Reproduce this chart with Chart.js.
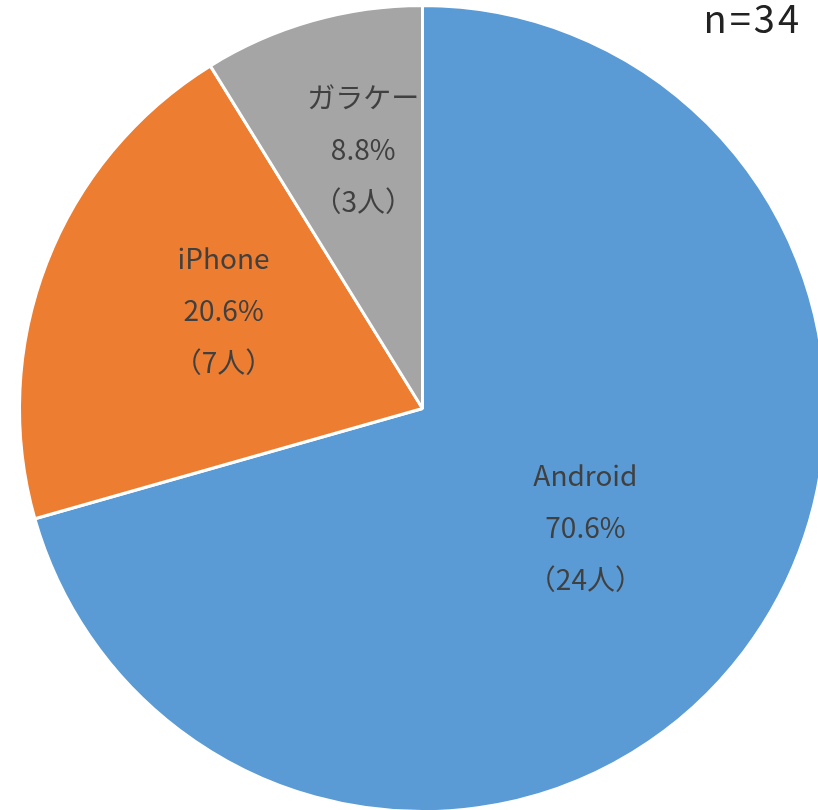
<!DOCTYPE html>
<html lang="ja">
<head>
<meta charset="utf-8">
<script src="https://cdn.jsdelivr.net/npm/chart.js"></script>
<style>
  html, body { margin: 0; padding: 0; background: #fff; overflow: hidden; }
  #wrap { position: relative; width: 818px; height: 810px; overflow: hidden; }
  #pieChart { position: absolute; left: 0; top: 0; }
  #nLabel {
    position: absolute; right: 16px; top: -2px;
    font-family: "Noto Sans CJK JP", "Noto Sans", sans-serif;
    font-size: 38px; line-height: 38px; letter-spacing: 3px; color: #222;
  }
</style>
</head>
<body>
<div id="wrap">
  <canvas id="pieChart" width="845" height="815"></canvas>
  <div id="nLabel">n=34</div>
</div>
<script>
  const categories = ['Android', 'iPhone', 'ガラケー'];
  const counts = [24, 7, 3];
  const percentLabels = ['70.6%', '20.6%', '8.8%'];
  const sliceColors = ['#5B9BD5', '#ED7D31', '#A5A5A5'];

  // where each label sits inside its slice (share of radius, angle nudge in degrees)
  const labelRadius = [0.50, 0.55, 0.66];
  const labelAngleShift = [-1, 5, 3];

  const sliceLabels = {
    id: 'sliceLabels',
    afterDatasetsDraw(chart) {
      const ctx = chart.ctx;
      const arcs = chart.getDatasetMeta(0).data;
      ctx.save();
      ctx.font = '28px "Noto Sans CJK JP", "Noto Sans", sans-serif';
      ctx.fillStyle = '#404040';
      ctx.textAlign = 'center';
      ctx.textBaseline = 'middle';
      arcs.forEach((arc, i) => {
        const p = arc.getProps(['x', 'y', 'startAngle', 'endAngle', 'outerRadius'], true);
        const mid = (p.startAngle + p.endAngle) / 2 + labelAngleShift[i] * Math.PI / 180;
        const r = p.outerRadius * labelRadius[i];
        const cx = p.x + Math.cos(mid) * r;
        const cy = p.y + Math.sin(mid) * r;
        const lines = [categories[i], percentLabels[i], '（' + counts[i] + '人）'];
        lines.forEach((line, j) => {
          ctx.fillText(line, cx, cy + (j - 1) * 52);
        });
      });
      ctx.restore();
    }
  };

  new Chart(document.getElementById('pieChart'), {
    type: 'pie',
    data: {
      labels: categories,
      datasets: [{
        data: counts,
        backgroundColor: sliceColors,
        borderColor: '#ffffff',
        borderWidth: 3
      }]
    },
    options: {
      responsive: false,
      animation: false,
      layout: { padding: { left: 18, right: 18, top: 4, bottom: 2 } },
      plugins: {
        legend: { display: false },
        tooltip: { enabled: false }
      }
    },
    plugins: [sliceLabels]
  });
</script>
</body>
</html>
